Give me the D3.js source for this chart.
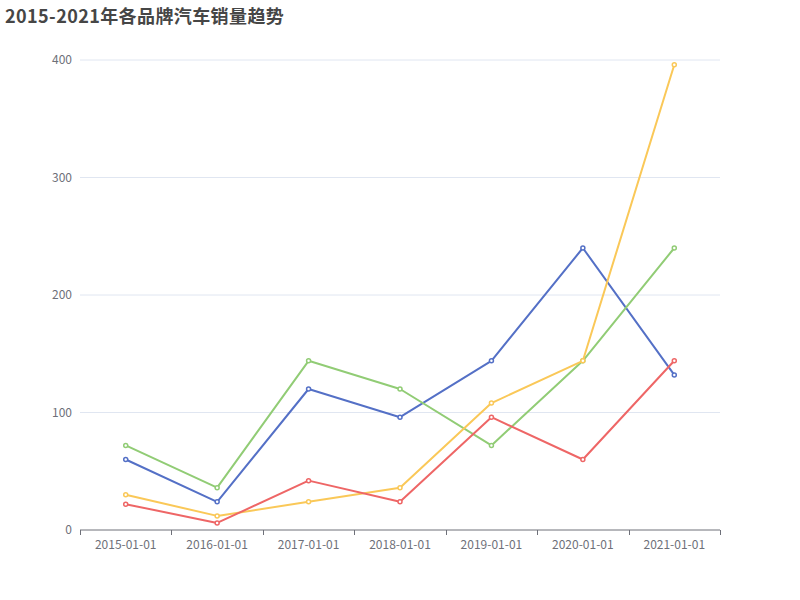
<!DOCTYPE html>
<html>
<head>
<meta charset="utf-8">
<script src="https://cdn.jsdelivr.net/npm/d3@7"></script>
<style>
  body { margin: 0; background: #fff; }
  text { font-family: "Noto Sans CJK SC", "Microsoft YaHei", sans-serif; }
</style>
</head>
<body>
<div id="chart-wrapper"></div>
<script>
// Data
const categories = ["2015-01-01", "2016-01-01", "2017-01-01", "2018-01-01", "2019-01-01", "2020-01-01", "2021-01-01"]
const blueValues = [60, 24, 120, 96, 144, 240, 132]
const greenValues = [72, 36, 144, 120, 72, 144, 240]
const yellowValues = [30, 12, 24, 36, 108, 144, 396]
const redValues = [22, 6, 42, 24, 96, 60, 144]
const yTicks = [0, 100, 200, 300, 400]

const series = [
  {values: blueValues, color: "#5470c6"},
  {values: greenValues, color: "#91cc75"},
  {values: yellowValues, color: "#fac858"},
  {values: redValues, color: "#ee6666"}
]

const width = 800
const height = 600
const grid = {left: 80, right: 720, top: 60, bottom: 530}

const svg = d3.select("#chart-wrapper")
  .append("svg")
  .attr("width", width)
  .attr("height", height)

// Title
svg.append("text")
  .attr("x", 5)
  .attr("y", 23)
  .attr("fill", "#464646")
  .attr("font-size", 18)
  .attr("font-weight", "bold")
  .attr("letter-spacing", 0.4)
  .text("2015-2021年各品牌汽车销量趋势")

// Scales
const xScale = d3.scaleBand().domain(categories).range([grid.left, grid.right])
const yScale = d3.scaleLinear().domain([0, 400]).range([grid.bottom, grid.top])

// Grid lines
svg.append("g")
  .selectAll("line")
  .data(yTicks.filter(d => d > 0))
  .join("line")
  .attr("x1", grid.left)
  .attr("x2", grid.right)
  .attr("y1", d => yScale(d))
  .attr("y2", d => yScale(d))
  .attr("stroke", "#E0E6F1")

// Y axis labels
svg.append("g")
  .selectAll("text")
  .data(yTicks)
  .join("text")
  .attr("x", grid.left - 8)
  .attr("y", d => yScale(d))
  .attr("dy", "0.35em")
  .attr("text-anchor", "end")
  .attr("fill", "#6E7079")
  .attr("font-size", 12)
  .text(d => d)

// X axis
const xAxis = svg.append("g")
  .attr("transform", `translate(0,${grid.bottom})`)
xAxis.append("line")
  .attr("x1", grid.left)
  .attr("x2", grid.right)
  .attr("stroke", "#6E7079")
const boundaries = categories.map(c => xScale(c)).concat([grid.right])
xAxis.selectAll(".tick")
  .data(boundaries)
  .join("line")
  .attr("class", "tick")
  .attr("x1", d => Math.round(d) + 0.5)
  .attr("x2", d => Math.round(d) + 0.5)
  .attr("y1", 0)
  .attr("y2", 5)
  .attr("stroke", "#6E7079")
xAxis.selectAll(".label")
  .data(categories)
  .join("text")
  .attr("class", "label")
  .attr("x", d => xScale(d) + xScale.bandwidth() / 2)
  .attr("y", 19)
  .attr("text-anchor", "middle")
  .attr("fill", "#6E7079")
  .attr("font-size", 12)
  .text(d => d)

// Lines
const xPos = (d, i) => xScale(categories[i]) + xScale.bandwidth() / 2
const line = d3.line().x(xPos).y(d => yScale(d))

series.forEach(s => {
  const g = svg.append("g")
  g.append("path")
    .datum(s.values)
    .attr("d", line)
    .attr("fill", "none")
    .attr("stroke", s.color)
    .attr("stroke-width", 2)
    .attr("stroke-linejoin", "bevel")
  g.selectAll("circle")
    .data(s.values)
    .join("circle")
    .attr("cx", xPos)
    .attr("cy", d => yScale(d))
    .attr("r", 2)
    .attr("fill", "#fff")
    .attr("stroke", s.color)
    .attr("stroke-width", 1.5)
})
</script>
</body>
</html>
